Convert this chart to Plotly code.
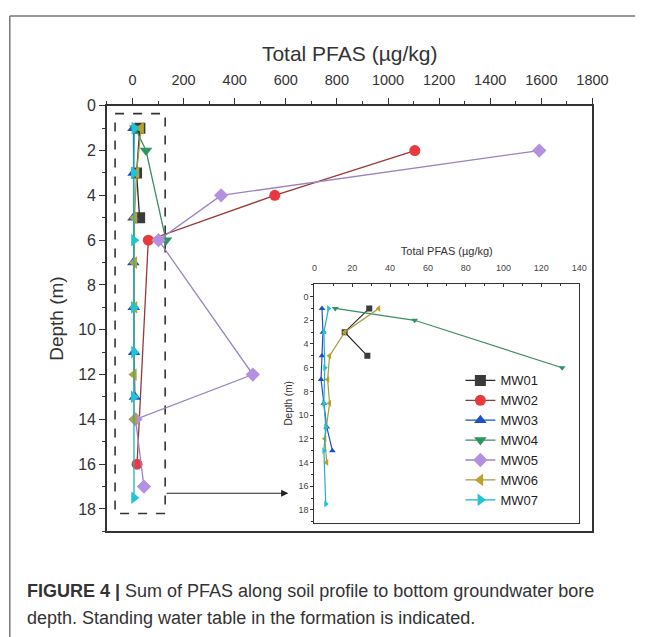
import plotly.graph_objects as go

# ---------------- data ----------------
wells = ["MW01", "MW02", "MW03", "MW04", "MW05", "MW06", "MW07"]
mw01_depth = [1, 3, 5]
mw01_pfas = [29, 16, 28]
mw02_depth = [2, 4, 6, 16]
mw02_pfas = [1105, 557, 62, 18]
mw03_depth = [1, 3, 5, 7, 9, 11, 13]
mw03_pfas = [4, 4.5, 4, 3.5, 5, 6.5, 9.5]
mw04_depth = [1, 2, 6]
mw04_pfas = [11, 53, 131]
mw05_depth = [2, 4, 6, 12, 14, 17]
mw05_pfas = [1592, 347, 102, 471, 12, 45]
mw06_depth = [1, 3, 5, 7, 9, 12, 14]
mw06_pfas = [34, 16, 8, 7, 8, 5.5, 6.5]
mw07_depth = [1, 3, 6, 9, 11, 13, 17.5]
mw07_pfas = [7.5, 5, 5.5, 5, 6, 5, 6]

depths = [mw01_depth, mw02_depth, mw03_depth, mw04_depth, mw05_depth, mw06_depth, mw07_depth]
values = [mw01_pfas, mw02_pfas, mw03_pfas, mw04_pfas, mw05_pfas, mw06_pfas, mw07_pfas]

main_x_ticks = [0, 200, 400, 600, 800, 1000, 1200, 1400, 1600, 1800]
main_y_ticks = [0, 2, 4, 6, 8, 10, 12, 14, 16, 18]
inset_x_ticks = [0, 20, 40, 60, 80, 100, 120, 140]
inset_y_ticks = [0, 2, 4, 6, 8, 10, 12, 14, 16, 18]

# ---------------- styles ----------------
symbols = ["square", "circle", "triangle-up", "triangle-down", "diamond", "triangle-left", "triangle-right"]
marker_colors = ["#3a3a3a", "#e8393f", "#1f4fc4", "#2e9460", "#b391e0", "#bba12c", "#22c4d4"]
line_colors = ["#2a2a2a", "#983838", "#1f4fc4", "#3c8c64", "#9b84bd", "#a89a3a", "#1fb0c0"]

W, H = 657, 637
NARROW = "Liberation Sans Narrow, Arial Narrow, Liberation Sans, Arial, sans-serif"
SANS = "Liberation Sans, Arial, sans-serif"
AX = "#333333"

fig = go.Figure()

# main plot traces (carry the legend)
for i, name in enumerate(wells):
    fig.add_trace(go.Scatter(
        x=values[i], y=depths[i], name=name, mode="lines+markers",
        xaxis="x", yaxis="y",
        line=dict(color=line_colors[i], width=1.3),
        marker=dict(symbol=symbols[i], size=11, color=marker_colors[i], line=dict(width=0)),
        showlegend=True,
    ))

# inset traces (values within inset range)
for i, name in enumerate(wells):
    if name in ("MW02", "MW05"):
        continue
    xs = [v for v in values[i] if v <= 140]
    ys = [d for v, d in zip(values[i], depths[i]) if v <= 140]
    fig.add_trace(go.Scatter(
        x=xs, y=ys, name=name, mode="lines+markers",
        xaxis="x2", yaxis="y2",
        line=dict(color=line_colors[i], width=1.2),
        marker=dict(symbol=symbols[i], size=6, color=marker_colors[i], line=dict(width=0)),
        showlegend=False,
    ))

def px_x(p):
    return p / W

def px_y(p):
    return 1 - p / H

fig.update_layout(
    width=W, height=H, autosize=False,
    margin=dict(l=0, r=0, t=0, b=0),
    paper_bgcolor="white", plot_bgcolor="white",
    xaxis=dict(
        domain=[px_x(107), px_x(607)], range=[-100, 1800], side="top",
        anchor="y", tickvals=main_x_ticks, ticks="outside", ticklen=6, tickwidth=1.2,
        tickcolor=AX, showline=True, linecolor=AX, linewidth=1.5, mirror=True,
        showgrid=False, zeroline=False, ticklabelstandoff=7,
        minor=dict(dtick=100, tick0=0, ticks="outside", ticklen=3, tickcolor=AX, showgrid=False),
        tickfont=dict(family=NARROW, size=14.5, color=AX),
        title=dict(text="Total PFAS (\u00b5g/kg)", font=dict(family=NARROW, size=21, color=AX), standoff=5),
    ),
    yaxis=dict(
        domain=[px_y(530), px_y(99)], range=[19, 0], anchor="x",
        tickvals=main_y_ticks, ticks="outside", ticklen=6, tickwidth=1.2, tickcolor=AX,
        showline=True, linecolor=AX, linewidth=1.5, mirror=True,
        showgrid=False, zeroline=False,
        minor=dict(dtick=1, tick0=0, ticks="outside", ticklen=3, tickcolor=AX, showgrid=False),
        tickfont=dict(family=NARROW, size=16, color=AX),
        title=dict(text="Depth (m)", font=dict(family=NARROW, size=19, color=AX), standoff=10),
    ),
    xaxis2=dict(
        domain=[px_x(320.7), px_x(593.3)], range=[0, 140], side="top", anchor="y2",
        tickvals=inset_x_ticks, ticks="inside", ticklen=3, tickwidth=1, tickcolor=AX,
        showline=True, linecolor=AX, linewidth=1.3, mirror=True,
        showgrid=False, zeroline=False, ticklabelstandoff=8,
        minor=dict(dtick=10, tick0=0, ticks="inside", ticklen=2, tickcolor=AX, showgrid=False),
        tickfont=dict(family=SANS, size=9, color="#444"),
        title=dict(text="Total PFAS (\u00b5g/kg)", font=dict(family=NARROW, size=11, color=AX), standoff=5),
    ),
    yaxis2=dict(
        domain=[px_y(521.5), px_y(279.3)], range=[19.1, -1.08], anchor="x2",
        tickvals=inset_y_ticks, ticks="outside", ticklen=3, tickwidth=1, tickcolor=AX,
        showline=True, linecolor=AX, linewidth=1.3, mirror=True,
        showgrid=False, zeroline=False,
        minor=dict(dtick=1, tick0=0, ticks="outside", ticklen=2, tickcolor=AX, showgrid=False),
        tickfont=dict(family=SANS, size=9, color="#444"),
        title=dict(text="Depth (m)", font=dict(family=SANS, size=10, color=AX), standoff=3),
    ),
    legend=dict(
        x=px_x(471), y=px_y(362), xanchor="left", yanchor="top",
        bgcolor="rgba(0,0,0,0)", borderwidth=0,
        font=dict(family=SANS, size=13, color="#222"),
        itemwidth=30, tracegroupgap=0,
    ),
    showlegend=True,
)

# dashed selection box and arrow in main plot
fig.add_shape(type="rect", xref="x", yref="y", x0=-68, x1=128, y0=0.35, y1=18.2,
              line=dict(color="#333", width=1.6, dash="dash"), layer="below")
fig.add_annotation(xref="x", yref="y", axref="x", ayref="y", x=610, y=17.3, ax=128, ay=17.3,
                   text="", showarrow=True, arrowhead=2, arrowsize=1.2, arrowwidth=1.2,
                   arrowcolor="#222")

# outer frame (top + left)
fig.add_shape(type="line", xref="paper", yref="paper", x0=px_x(7), x1=px_x(651), y0=px_y(8), y1=px_y(8),
              line=dict(color="#777", width=1.5))
fig.add_shape(type="line", xref="paper", yref="paper", x0=px_x(7), x1=px_x(7), y0=px_y(8), y1=0,
              line=dict(color="#777", width=1.5))

# caption
fig.add_annotation(xref="paper", yref="paper", x=px_x(23), y=px_y(590), xanchor="left", yanchor="middle",
                   showarrow=False, align="left",
                   text="<b>FIGURE 4 |</b> Sum of PFAS along soil profile to bottom groundwater bore",
                   font=dict(family=SANS, size=18, color="#333"))
fig.add_annotation(xref="paper", yref="paper", x=px_x(23), y=px_y(618), xanchor="left", yanchor="middle",
                   showarrow=False, align="left",
                   text="depth. Standing water table in the formation is indicated.",
                   font=dict(family=SANS, size=18, color="#333"))

fig.write_html("out.html")
